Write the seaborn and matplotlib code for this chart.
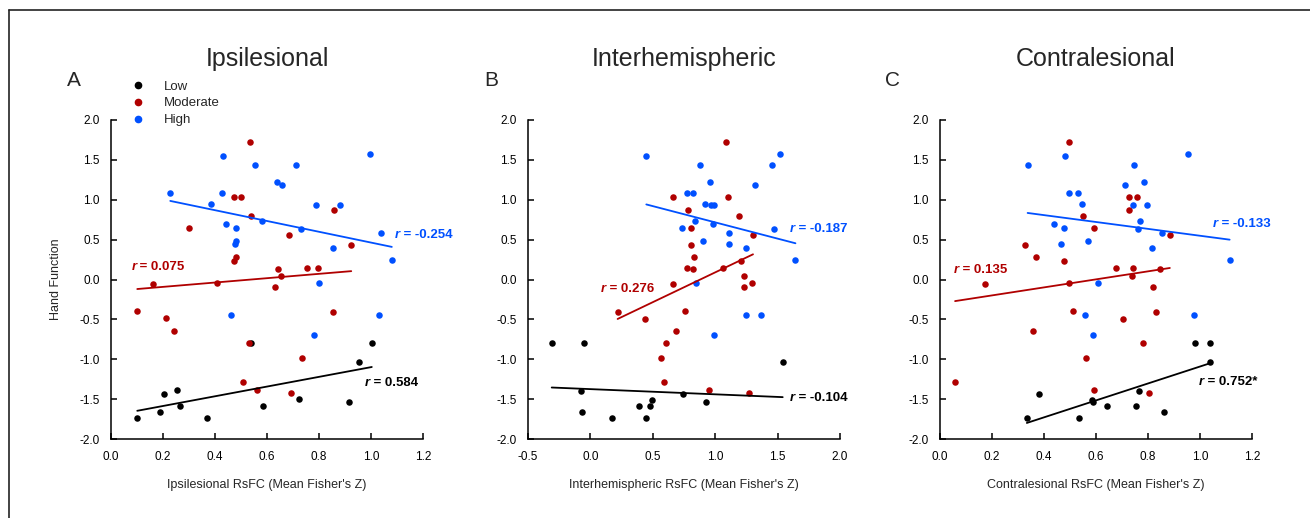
import numpy as np
import pandas as pd
import matplotlib
matplotlib.use("Agg")
import matplotlib.pyplot as plt
from matplotlib.lines import Line2D
from matplotlib.ticker import FormatStrFormatter, MultipleLocator
import seaborn as sns

# ---- data ----
groups = ["Low", "Moderate", "High"]
colors = {"Low": "#000000", "Moderate": "#b00000", "High": "#0050ff"}

# panel A: ipsilesional
ipsi_low_x = [0.101, 0.189, 0.202, 0.255, 0.265, 0.369, 0.537, 0.586, 0.724, 0.914, 0.955, 1.003]
ipsi_low_y = [-1.74, -1.66, -1.43, -1.39, -1.58, -1.74, -0.80, -1.58, -1.50, -1.53, -1.03, -0.80]
ipsi_mod_x = [0.535, 0.474, 0.500, 0.537, 0.300, 0.685, 0.856, 0.924, 0.472, 0.481, 0.642, 0.653, 0.629,
              0.754, 0.798, 0.406, 0.161, 0.101, 0.213, 0.244, 0.853, 0.531, 0.733, 0.508, 0.563, 0.694]
ipsi_mod_y = [1.72, 1.04, 1.04, 0.79, 0.65, 0.56, 0.87, 0.43, 0.23, 0.28, 0.13, 0.04, -0.09,
              0.15, 0.15, -0.05, -0.06, -0.40, -0.48, -0.65, -0.41, -0.80, -0.99, -1.28, -1.39, -1.42]
ipsi_high_x = [0.228, 0.431, 0.426, 0.385, 0.444, 0.481, 0.480, 0.476, 0.554, 0.638, 0.657, 0.711,
               0.581, 0.731, 0.789, 0.879, 0.853, 0.998, 1.038, 1.080, 0.799, 1.031, 0.782, 0.462]
ipsi_high_y = [1.08, 1.55, 1.08, 0.95, 0.69, 0.65, 0.48, 0.44, 1.43, 1.22, 1.18, 1.43,
               0.73, 0.63, 0.94, 0.94, 0.39, 1.57, 0.58, 0.25, -0.05, -0.45, -0.70, -0.44]

# panel B: interhemispheric
inter_low_x = [-0.310, -0.050, -0.079, -0.071, 0.172, 0.389, 0.475, 0.446, 0.497, 0.743, 0.930, 1.541]
inter_low_y = [-0.80, -0.80, -1.40, -1.66, -1.74, -1.58, -1.58, -1.74, -1.51, -1.43, -1.53, -1.03]
inter_mod_x = [1.086, 0.660, 1.099, 0.783, 1.193, 0.807, 1.303, 0.805, 0.829, 1.204, 0.778, 0.821, 1.062,
               1.233, 1.297, 1.233, 0.660, 0.218, 0.435, 0.759, 0.689, 0.609, 0.566, 0.588, 0.952, 1.273]
inter_mod_y = [1.72, 1.04, 1.04, 0.87, 0.79, 0.65, 0.56, 0.43, 0.28, 0.23, 0.14, 0.13, 0.15,
               0.04, -0.05, -0.09, -0.06, -0.41, -0.49, -0.40, -0.65, -0.80, -0.99, -1.28, -1.39, -1.42]
inter_high_x = [0.448, 0.880, 0.957, 0.778, 0.821, 0.922, 0.963, 0.987, 0.837, 0.735, 0.984, 0.901,
                1.113, 1.110, 1.244, 1.316, 1.453, 1.522, 1.469, 1.643, 0.850, 1.244, 1.364, 0.987]
inter_high_y = [1.55, 1.43, 1.22, 1.08, 1.08, 0.95, 0.94, 0.94, 0.73, 0.65, 0.69, 0.48,
                0.58, 0.44, 0.39, 1.18, 1.43, 1.57, 0.63, 0.25, -0.05, -0.45, -0.44, -0.70]

# panel C: contralesional
contra_low_x = [0.334, 0.379, 0.533, 0.584, 0.589, 0.641, 0.755, 0.766, 0.862, 0.981, 1.039, 1.039]
contra_low_y = [-1.74, -1.43, -1.74, -1.51, -1.54, -1.58, -1.58, -1.40, -1.66, -0.80, -0.80, -1.03]
contra_mod_x = [0.495, 0.728, 0.758, 0.727, 0.550, 0.591, 0.884, 0.328, 0.369, 0.478, 0.677, 0.741, 0.739,
                0.846, 0.495, 0.818, 0.173, 0.511, 0.829, 0.705, 0.358, 0.781, 0.561, 0.058, 0.591, 0.802]
contra_mod_y = [1.72, 1.04, 1.04, 0.87, 0.79, 0.65, 0.56, 0.43, 0.28, 0.23, 0.14, 0.15, 0.04,
                0.13, -0.05, -0.09, -0.06, -0.40, -0.41, -0.49, -0.65, -0.80, -0.99, -1.28, -1.39, -1.42]
contra_high_x = [0.337, 0.480, 0.495, 0.531, 0.545, 0.437, 0.475, 0.464, 0.568, 0.712, 0.745, 0.786,
                 0.741, 0.795, 0.769, 0.760, 0.854, 0.816, 0.952, 1.114, 0.608, 0.557, 0.978, 0.588]
contra_high_y = [1.43, 1.55, 1.08, 1.08, 0.95, 0.69, 0.65, 0.44, 0.48, 1.18, 1.43, 1.22,
                 0.94, 0.94, 0.73, 0.63, 0.58, 0.39, 1.57, 0.25, -0.05, -0.44, -0.45, -0.70]

titles = ["Ipsilesional", "Interhemispheric", "Contralesional"]
letters = ["A", "B", "C"]
xlabels = ["Ipsilesional RsFC (Mean Fisher's Z)", "Interhemispheric RsFC (Mean Fisher's Z)",
           "Contralesional RsFC (Mean Fisher's Z)"]
xlims = [(0, 1.2), (-0.5, 2.0), (0, 1.2)]
xsteps = [0.2, 0.5, 0.2]

# r labels: (text, x, y) per group
r_ipsi = {"Low": ("0.584", 0.976, -1.30), "Moderate": ("0.075", 0.078, 0.16), "High": ("-0.254", 1.093, 0.56)}
r_inter = {"Low": ("-0.104", 1.600, -1.49), "Moderate": ("0.276", 0.084, -0.125), "High": ("-0.187", 1.600, 0.63)}
r_contra = {"Low": ("0.752*", 0.997, -1.28), "Moderate": ("0.135", 0.053, 0.12), "High": ("-0.133", 1.048, 0.70)}


def make_df(lx, ly, mx, my, hx, hy):
    parts = []
    for g, xs, ys in [("Low", lx, ly), ("Moderate", mx, my), ("High", hx, hy)]:
        parts.append(pd.DataFrame({"x": xs, "y": ys, "group": g}))
    return pd.concat(parts, ignore_index=True)


panels = [
    make_df(ipsi_low_x, ipsi_low_y, ipsi_mod_x, ipsi_mod_y, ipsi_high_x, ipsi_high_y),
    make_df(inter_low_x, inter_low_y, inter_mod_x, inter_mod_y, inter_high_x, inter_high_y),
    make_df(contra_low_x, contra_low_y, contra_mod_x, contra_mod_y, contra_high_x, contra_high_y),
]
rlabels = [r_ipsi, r_inter, r_contra]

sns.set_style("ticks")
plt.rcParams["font.family"] = ["Liberation Sans", "DejaVu Sans"]
plt.rcParams["axes.unicode_minus"] = False

fig = plt.figure(figsize=(13.1, 5.18), dpi=100)
lefts = [111, 528, 940]
letter_x = [74, 491, 893]

for i, df in enumerate(panels):
    ax = fig.add_axes([lefts[i] / 1310, 79 / 518, 312 / 1310, 319 / 518])
    for g in groups:
        sub = df[df["group"] == g]
        sns.regplot(data=sub, x="x", y="y", ci=None, color=colors[g], ax=ax,
                    scatter_kws=dict(s=22, linewidths=0, alpha=1), line_kws=dict(lw=1.3))
    ax.set_xlim(*xlims[i])
    ax.set_ylim(-2, 2)
    ax.xaxis.set_major_locator(MultipleLocator(xsteps[i]))
    ax.yaxis.set_major_locator(MultipleLocator(0.5))
    ax.xaxis.set_major_formatter(FormatStrFormatter("%.1f"))
    ax.yaxis.set_major_formatter(FormatStrFormatter("%.1f"))
    ax.tick_params(direction="in", length=4, width=1.1, labelsize=8.5, colors="black")
    ax.tick_params(axis="x", pad=9)
    ax.tick_params(axis="y", pad=8)
    for s in ["top", "right"]:
        ax.spines[s].set_visible(False)
    for s in ["left", "bottom"]:
        ax.spines[s].set_linewidth(1.1)
        ax.spines[s].set_color("black")
    ax.set_xlabel(xlabels[i], fontsize=9)
    ax.xaxis.set_label_coords(0.5, -0.124)
    ax.set_ylabel("Hand Function" if i == 0 else "", fontsize=9)
    ax.yaxis.set_label_coords(-0.157, 0.5)
    ax.text(0.5, 1.19, titles[i], transform=ax.transAxes, ha="center", va="center", fontsize=18)
    ax.text((letter_x[i] - lefts[i]) / 312, 1.125, letters[i], transform=ax.transAxes,
            ha="center", va="center", fontsize=15)
    for g in groups:
        val, tx, ty = rlabels[i][g]
        t = ax.text(tx, ty, "r", color=colors[g], fontsize=9.5, fontweight="bold",
                    fontstyle="italic", va="center", ha="left", clip_on=False)
        ax.annotate(" = " + val, xy=(1, 0), xycoords=t, va="bottom", ha="left",
                    color=colors[g], fontsize=9.5, fontweight="bold", annotation_clip=False)
    if i == 0:
        handles = [Line2D([], [], marker="o", ls="", color=colors[g], markersize=4.5) for g in groups]
        ax.legend(handles, groups, loc="upper left", bbox_to_anchor=(0.035, 1.145), frameon=False,
                  fontsize=9.5, handletextpad=1.2, labelspacing=0.35, borderpad=0, handlelength=1.5)

# frame lines of the original figure panel
fig.add_artist(Line2D([9 / 1310, 9 / 1310], [0, 1 - 10 / 518], transform=fig.transFigure,
                      color="#222222", lw=1.2))
fig.add_artist(Line2D([9 / 1310, 1], [1 - 10 / 518, 1 - 10 / 518], transform=fig.transFigure,
                      color="#222222", lw=1.2))

fig.savefig("out.png", dpi=100)
